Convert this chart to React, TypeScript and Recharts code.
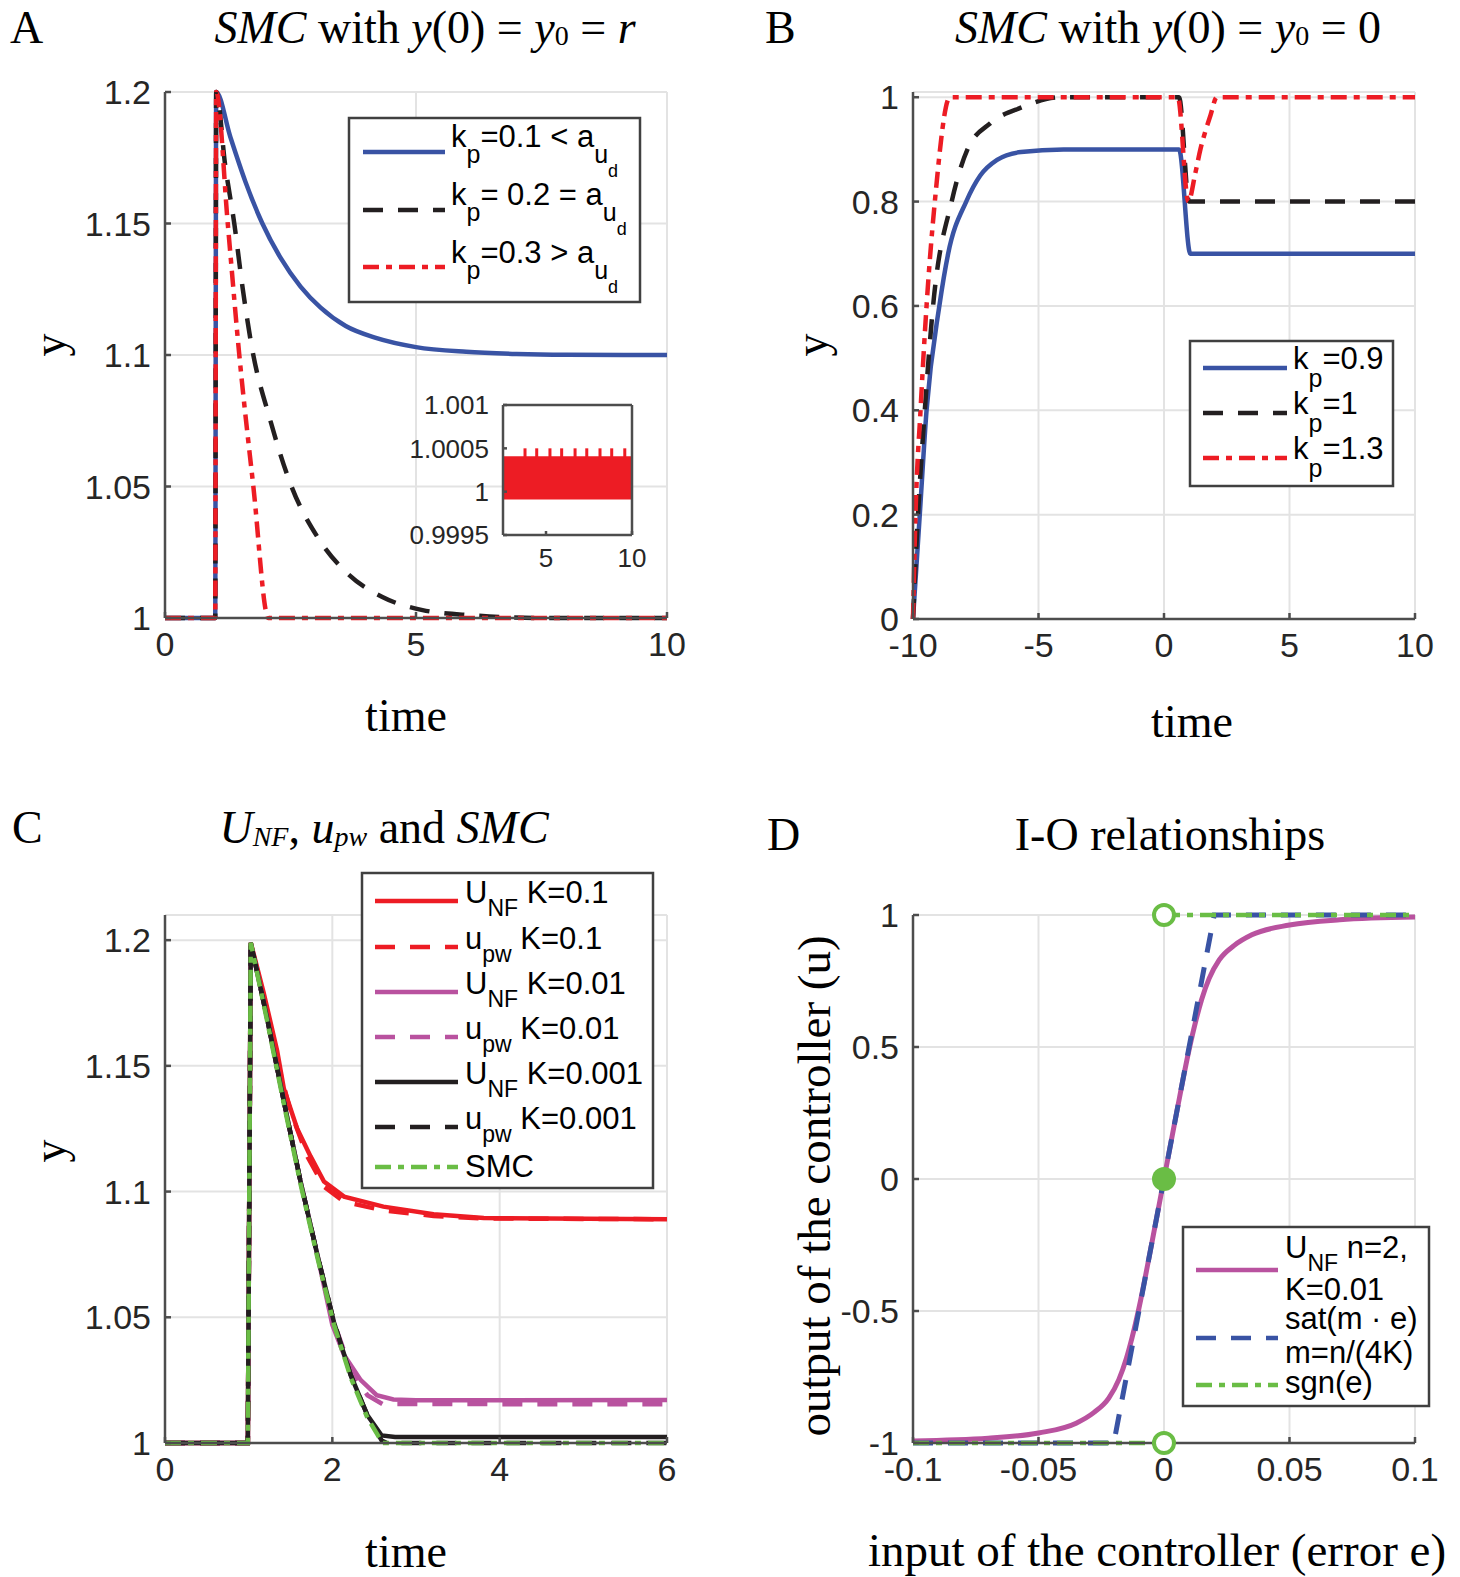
import React from 'react'
import {
  LineChart,
  ComposedChart,
  Line,
  Area,
  Scatter,
  XAxis,
  YAxis,
  CartesianGrid,
  ReferenceLine,
} from 'recharts'

// colours picked from the figure
const BLUE = '#3953a4'
const RED = '#ed1c24'
const BLACK = '#231f20'
const MAGENTA = '#b9529f'
const GREEN = '#6abd45'
const GRID = '#e3e3e3'
const AXIS = '#4d4d4d'
const TICK = '#262626'
const SANS = '"Liberation Sans", Arial, Helvetica, sans-serif'
const SERIF = '"Liberation Serif", "Times New Roman", Times, serif'

const DASHED = '20 15'
const DASHDOT = '16 7 6 7'

// ---------- A: SMC with y(0) = y0 = r
const aTimeTicks = [0, 5, 10]
const aYTicks = [1, 1.05, 1.1, 1.15, 1.2]
const aKp01 = [
  { t: 0, y: 1 }, { t: 1, y: 1 }, { t: 1.02, y: 1.2 }, { t: 1.3, y: 1.183 },
  { t: 1.6, y: 1.166 }, { t: 1.94, y: 1.15 }, { t: 2.3, y: 1.137 }, { t: 2.7, y: 1.126 },
  { t: 3.1, y: 1.118 }, { t: 3.6, y: 1.111 }, { t: 4.2, y: 1.1065 }, { t: 5, y: 1.103 },
  { t: 6, y: 1.1012 }, { t: 7, y: 1.1004 }, { t: 8, y: 1.1001 }, { t: 10, y: 1.1 },
]
const aKp02 = [
  { t: 0, y: 1 }, { t: 1, y: 1 }, { t: 1.02, y: 1.2 }, { t: 1.2, y: 1.172 },
  { t: 1.38, y: 1.15 }, { t: 1.55, y: 1.125 }, { t: 1.72, y: 1.104 }, { t: 2.1, y: 1.075 },
  { t: 2.52, y: 1.05 }, { t: 3.03, y: 1.031 }, { t: 3.63, y: 1.017 }, { t: 4.33, y: 1.008 },
  { t: 5.13, y: 1.003 }, { t: 6.13, y: 1.001 }, { t: 7.5, y: 1 }, { t: 10, y: 1 },
]
const aKp03 = [
  { t: 0, y: 1 }, { t: 1, y: 1 }, { t: 1.02, y: 1.2 }, { t: 1.25, y: 1.15 },
  { t: 1.48, y: 1.1 }, { t: 1.76, y: 1.05 }, { t: 2.06, y: 1 }, { t: 10, y: 1 },
]
const insetTimeTicks = [5, 10]
const insetYTicks = [0.9995, 1, 1.0005, 1.001]
const insetBand = [
  { t: 2.5, y: [0.99991, 1.00041] },
  { t: 10, y: [0.99991, 1.00041] },
]
const insetSpikes = [
  { t: 3.78, y: 1.0005 }, { t: 4.46, y: 1.0005 }, { t: 5.23, y: 1.0005 },
  { t: 5.91, y: 1.0005 }, { t: 6.69, y: 1.0005 }, { t: 7.37, y: 1.0005 },
  { t: 8.14, y: 1.0005 }, { t: 8.82, y: 1.0005 }, { t: 9.58, y: 1.0005 },
]

// ---------- B: SMC with y(0) = y0 = 0
const bTimeTicks = [-10, -5, 0, 5, 10]
const bYTicks = [0, 0.2, 0.4, 0.6, 0.8, 1]
const bKp09 = [
  { t: -10, y: 0 }, { t: -9.73, y: 0.2 }, { t: -9.46, y: 0.4 }, { t: -8.95, y: 0.6 },
  { t: -8.6, y: 0.7 }, { t: -7.88, y: 0.8 }, { t: -7.32, y: 0.85 }, { t: -6.65, y: 0.88 },
  { t: -5.7, y: 0.895 }, { t: -4, y: 0.9 }, { t: 0.6, y: 0.9 }, { t: 1.05, y: 0.7 },
  { t: 10, y: 0.7 },
]
const bKp1 = [
  { t: -10, y: 0 }, { t: -9.8, y: 0.2 }, { t: -9.53, y: 0.4 }, { t: -9.2, y: 0.6 },
  { t: -8.46, y: 0.8 }, { t: -7.83, y: 0.9 }, { t: -6.92, y: 0.95 }, { t: -5.7, y: 0.98 },
  { t: -4.1, y: 1 }, { t: 0.6, y: 1 }, { t: 1.0, y: 0.8 }, { t: 10, y: 0.8 },
]
const bKp13 = [
  { t: -10, y: 0 }, { t: -9.9, y: 0.2 }, { t: -9.7, y: 0.4 }, { t: -9.46, y: 0.6 },
  { t: -9.13, y: 0.8 }, { t: -8.53, y: 1 }, { t: 0.55, y: 1 }, { t: 0.97, y: 0.8 },
  { t: 1.25, y: 0.855 }, { t: 1.45, y: 0.9 }, { t: 1.65, y: 0.935 }, { t: 1.85, y: 0.965 },
  { t: 2.1, y: 1 }, { t: 10, y: 1 },
]

// ---------- C: U_NF, u_pw and SMC
const cTimeTicks = [0, 2, 4, 6]
const cYTicks = [1, 1.05, 1.1, 1.15, 1.2]
const cUnfK01 = [
  { t: 0, y: 1 }, { t: 0.99, y: 1 }, { t: 1.025, y: 1.199 }, { t: 1.18, y: 1.179 },
  { t: 1.34, y: 1.156 }, { t: 1.42, y: 1.141 }, { t: 1.58, y: 1.125 }, { t: 1.74, y: 1.114 },
  { t: 1.9, y: 1.104 }, { t: 2.14, y: 1.098 }, { t: 2.61, y: 1.094 }, { t: 3.21, y: 1.091 },
  { t: 3.81, y: 1.0895 }, { t: 6, y: 1.089 },
]
const cUpwK01 = [
  { t: 0, y: 1 }, { t: 0.99, y: 1 }, { t: 1.025, y: 1.199 }, { t: 1.18, y: 1.177 },
  { t: 1.34, y: 1.152 }, { t: 1.5, y: 1.132 }, { t: 1.7, y: 1.114 }, { t: 1.9, y: 1.102 },
  { t: 2.14, y: 1.096 }, { t: 2.61, y: 1.0925 }, { t: 3.21, y: 1.0903 }, { t: 3.81, y: 1.0893 },
  { t: 6, y: 1.089 },
]
const cUnfK001 = [
  { t: 0, y: 1 }, { t: 0.99, y: 1 }, { t: 1.025, y: 1.199 }, { t: 1.22, y: 1.169 },
  { t: 1.42, y: 1.136 }, { t: 1.62, y: 1.104 }, { t: 1.82, y: 1.075 }, { t: 2.0, y: 1.047 },
  { t: 2.14, y: 1.035 }, { t: 2.34, y: 1.025 }, { t: 2.53, y: 1.019 }, { t: 2.73, y: 1.0173 },
  { t: 3.0, y: 1.017 }, { t: 6, y: 1.0171 },
]
const cUpwK001 = [
  { t: 0, y: 1 }, { t: 0.99, y: 1 }, { t: 1.025, y: 1.199 }, { t: 1.22, y: 1.169 },
  { t: 1.42, y: 1.136 }, { t: 1.62, y: 1.104 }, { t: 1.82, y: 1.075 }, { t: 2.02, y: 1.048 },
  { t: 2.22, y: 1.029 }, { t: 2.42, y: 1.019 }, { t: 2.6, y: 1.0155 }, { t: 6, y: 1.0154 },
]
const cUnfK0001 = [
  { t: 0, y: 1 }, { t: 0.99, y: 1 }, { t: 1.025, y: 1.199 }, { t: 1.22, y: 1.169 },
  { t: 1.42, y: 1.136 }, { t: 1.62, y: 1.104 }, { t: 1.82, y: 1.075 }, { t: 2.02, y: 1.048 },
  { t: 2.22, y: 1.027 }, { t: 2.42, y: 1.011 }, { t: 2.59, y: 1.003 }, { t: 2.75, y: 1.0024 },
  { t: 6, y: 1.0024 },
]
const cUpwK0001 = [
  { t: 0, y: 1 }, { t: 0.99, y: 1 }, { t: 1.025, y: 1.199 }, { t: 1.22, y: 1.169 },
  { t: 1.42, y: 1.136 }, { t: 1.62, y: 1.104 }, { t: 1.82, y: 1.075 }, { t: 2.02, y: 1.048 },
  { t: 2.22, y: 1.027 }, { t: 2.42, y: 1.011 }, { t: 2.59, y: 1.001 }, { t: 2.65, y: 1 },
  { t: 6, y: 1 },
]
const cSmc = [
  { t: 0, y: 1 }, { t: 0.99, y: 1 }, { t: 1.025, y: 1.199 }, { t: 1.22, y: 1.168 },
  { t: 1.42, y: 1.135 }, { t: 1.62, y: 1.103 }, { t: 1.82, y: 1.074 }, { t: 2.02, y: 1.047 },
  { t: 2.22, y: 1.026 }, { t: 2.42, y: 1.01 }, { t: 2.6, y: 1 }, { t: 6, y: 1 },
]

// ---------- D: I-O relationships
const dErrTicks = [-0.1, -0.05, 0, 0.05, 0.1]
const dOutTicks = [-1, -0.5, 0, 0.5, 1]
const dUnf = [
  { e: -0.1, u: -0.992 }, { e: -0.07, u: -0.982 }, { e: -0.05, u: -0.962 }, { e: -0.035, u: -0.925 },
  { e: -0.028, u: -0.885 }, { e: -0.022, u: -0.83 }, { e: -0.018, u: -0.76 }, { e: -0.015, u: -0.68 },
  { e: -0.0127, u: -0.6 }, { e: -0.01, u: -0.49 }, { e: -0.005, u: -0.25 }, { e: 0, u: 0 },
  { e: 0.005, u: 0.25 }, { e: 0.01, u: 0.49 }, { e: 0.0127, u: 0.6 }, { e: 0.015, u: 0.68 },
  { e: 0.018, u: 0.76 }, { e: 0.022, u: 0.83 }, { e: 0.028, u: 0.885 }, { e: 0.035, u: 0.925 },
  { e: 0.05, u: 0.962 }, { e: 0.07, u: 0.982 }, { e: 0.1, u: 0.992 },
]
const dSat = [
  { e: -0.1, u: -1 }, { e: -0.02, u: -1 }, { e: 0.02, u: 1 }, { e: 0.1, u: 1 },
]
const dSgn = [
  { e: -0.1, u: -1 }, { e: 0, u: -1 }, { e: 0, u: null }, { e: 0, u: 1 }, { e: 0.1, u: 1 },
]
const dSgnMarks = [
  { e: 0, u: 1, open: true }, { e: 0, u: -1, open: true }, { e: 0, u: 0, open: false },
]

const tickFont = { fontSize: 34, fill: TICK, fontFamily: SANS }
const smallTickFont = { fontSize: 26, fill: TICK, fontFamily: SANS }

function timeAxis(key: string, domain: number[], ticks: number[]) {
  return (
    <XAxis
      dataKey={key}
      type="number"
      domain={domain}
      ticks={ticks}
      interval={0}
      height={60}
      tick={tickFont}
      tickSize={-6}
      tickMargin={20}
      stroke={AXIS}
      strokeWidth={2.5}
    />
  )
}

function valueAxis(domain: number[], ticks: number[]) {
  return (
    <YAxis
      type="number"
      domain={domain}
      ticks={ticks}
      interval={0}
      width={100}
      tick={tickFont}
      tickSize={-6}
      tickMargin={20}
      stroke={AXIS}
      strokeWidth={2.5}
    />
  )
}

const lineBase = { dot: false, activeDot: false, isAnimationActive: false, strokeWidth: 4.5 }

function PanelA() {
  return (
    <LineChart width={730} height={700} margin={{ top: 92, right: 63, bottom: 22, left: 65 }}>
      <CartesianGrid stroke={GRID} strokeWidth={2} />
      {timeAxis('t', [0, 10], aTimeTicks)}
      {valueAxis([1, 1.2], aYTicks)}
      <Line {...lineBase} data={aKp01} dataKey="y" type="monotone" stroke={BLUE} />
      <Line {...lineBase} data={aKp02} dataKey="y" type="monotone" stroke={BLACK} strokeDasharray={DASHED} />
      <Line {...lineBase} data={aKp03} dataKey="y" type="monotone" stroke={RED} strokeDasharray={DASHDOT} />
    </LineChart>
  )
}

function InsetA() {
  return (
    <ComposedChart width={270} height={200} margin={{ top: 25, right: 18, bottom: 5, left: 23 }}>
      <CartesianGrid fill="#ffffff" horizontal={false} vertical={false} />
      <XAxis
        dataKey="t"
        type="number"
        domain={[2.5, 10]}
        ticks={insetTimeTicks}
        interval={0}
        height={40}
        tick={smallTickFont}
        tickSize={-4}
        tickMargin={18}
        stroke={AXIS}
        strokeWidth={2.5}
      />
      <YAxis
        type="number"
        domain={[0.9995, 1.001]}
        ticks={insetYTicks}
        interval={0}
        width={100}
        tick={smallTickFont}
        tickSize={-4}
        tickMargin={18}
        stroke={AXIS}
        strokeWidth={2.5}
      />
      <Area data={insetBand} dataKey="y" type="linear" stroke="none" fill={RED} fillOpacity={1} isAnimationActive={false} />
      <Scatter
        data={insetSpikes}
        dataKey="y"
        isAnimationActive={false}
        shape={(p: any) => <rect x={p.cx - 1.5} y={p.cy} width={3} height={10} fill={RED} />}
      />
      <ReferenceLine x={10} stroke={AXIS} strokeWidth={2.5} />
      <ReferenceLine y={1.001} stroke={AXIS} strokeWidth={2.5} />
    </ComposedChart>
  )
}

function PanelB() {
  return (
    <LineChart width={730} height={700} margin={{ top: 92, right: 45, bottom: 21, left: 83 }}>
      <CartesianGrid stroke={GRID} strokeWidth={2} />
      {timeAxis('t', [-10, 10], bTimeTicks)}
      {valueAxis([0, 1.01], bYTicks)}
      <Line {...lineBase} data={bKp09} dataKey="y" type="monotone" stroke={BLUE} />
      <Line {...lineBase} data={bKp1} dataKey="y" type="monotone" stroke={BLACK} strokeDasharray={DASHED} />
      <Line {...lineBase} data={bKp13} dataKey="y" type="monotone" stroke={RED} strokeDasharray={DASHDOT} />
    </LineChart>
  )
}

function PanelC() {
  return (
    <LineChart width={730} height={780} margin={{ top: 135, right: 63, bottom: 57, left: 65 }}>
      <CartesianGrid stroke={GRID} strokeWidth={2} />
      {timeAxis('t', [0, 6], cTimeTicks)}
      {valueAxis([1, 1.21], cYTicks)}
      <Line {...lineBase} data={cUnfK01} dataKey="y" stroke={RED} />
      <Line {...lineBase} data={cUpwK01} dataKey="y" stroke={RED} strokeDasharray={DASHED} />
      <Line {...lineBase} data={cUnfK001} dataKey="y" stroke={MAGENTA} />
      <Line {...lineBase} data={cUpwK001} dataKey="y" stroke={MAGENTA} strokeDasharray={DASHED} />
      <Line {...lineBase} data={cUnfK0001} dataKey="y" stroke={BLACK} />
      <Line {...lineBase} data={cUpwK0001} dataKey="y" stroke={BLACK} strokeDasharray={DASHED} />
      <Line {...lineBase} data={cSmc} dataKey="y" stroke={GREEN} strokeDasharray={DASHDOT} />
    </LineChart>
  )
}

function PanelD() {
  return (
    <ComposedChart width={730} height={780} margin={{ top: 135, right: 45, bottom: 57, left: 83 }}>
      <CartesianGrid stroke={GRID} strokeWidth={2} />
      {timeAxis('e', [-0.1, 0.1], dErrTicks)}
      {valueAxis([-1, 1], dOutTicks)}
      <Line {...lineBase} data={dUnf} dataKey="u" type="monotone" stroke={MAGENTA} strokeWidth={5} />
      <Line {...lineBase} data={dSat} dataKey="u" stroke={BLUE} strokeWidth={5} strokeDasharray={DASHED} />
      <Line {...lineBase} data={dSgn} dataKey="u" stroke={GREEN} strokeDasharray={DASHDOT} />
      <Scatter
        data={dSgnMarks}
        dataKey="u"
        isAnimationActive={false}
        shape={(p: any) =>
          p.payload.open ? (
            <circle cx={p.cx} cy={p.cy} r={10} fill="#ffffff" stroke={GREEN} strokeWidth={4} />
          ) : (
            <circle cx={p.cx} cy={p.cy} r={12} fill={GREEN} />
          )
        }
      />
    </ComposedChart>
  )
}

// legend sample stroke
function Sample({ x1, x2, y, color, dash }: { x1: number; x2: number; y: number; color: string; dash?: string }) {
  return <line x1={x1} x2={x2} y1={y} y2={y} stroke={color} strokeWidth={4.5} strokeDasharray={dash} />
}

function Overlay() {
  const lt = { fontFamily: SANS, fontSize: 31, fill: '#000' }
  return (
    <svg width={1460} height={1577} style={{ position: 'absolute', left: 0, top: 0 }}>
      {/* panel letters and titles */}
      <g fontFamily={SERIF} fontSize={46} fill="#000">
        <text x={10} y={43}>A</text>
        <text x={765} y={43}>B</text>
        <text x={12} y={843}>C</text>
        <text x={767} y={850}>D</text>
        <text x={425} y={43} textAnchor="middle">
          <tspan fontStyle="italic">SMC</tspan>
          <tspan>{' with '}</tspan>
          <tspan fontStyle="italic">y</tspan>
          <tspan>{'(0) = '}</tspan>
          <tspan fontStyle="italic">y</tspan>
          <tspan fontSize={28} dy={2}>0</tspan>
          <tspan dy={-2}>{' = '}</tspan>
          <tspan fontStyle="italic">r</tspan>
        </text>
        <text x={1168} y={43} textAnchor="middle">
          <tspan fontStyle="italic">SMC</tspan>
          <tspan>{' with '}</tspan>
          <tspan fontStyle="italic">y</tspan>
          <tspan>{'(0) = '}</tspan>
          <tspan fontStyle="italic">y</tspan>
          <tspan fontSize={28} dy={2}>0</tspan>
          <tspan dy={-2}>{' = 0'}</tspan>
        </text>
        <text x={384} y={843} textAnchor="middle">
          <tspan fontStyle="italic">U</tspan>
          <tspan fontStyle="italic" fontSize={28} dy={3}>NF</tspan>
          <tspan dy={-3}>{', '}</tspan>
          <tspan fontStyle="italic">u</tspan>
          <tspan fontStyle="italic" fontSize={28} dy={3}>pw</tspan>
          <tspan dy={-3}>{' and '}</tspan>
          <tspan fontStyle="italic">SMC</tspan>
        </text>
        <text x={1170} y={850} textAnchor="middle">I-O relationships</text>

        {/* axis labels */}
        <text x={406} y={731} textAnchor="middle">time</text>
        <text x={1192} y={737} textAnchor="middle">time</text>
        <text x={406} y={1567} textAnchor="middle">time</text>
        <text x={1157} y={1566} textAnchor="middle" fontSize={47}>input of the controller (error e)</text>
        <text transform="translate(65,345) rotate(-90)" textAnchor="middle">y</text>
        <text transform="translate(827,345) rotate(-90)" textAnchor="middle">y</text>
        <text transform="translate(65,1151) rotate(-90)" textAnchor="middle">y</text>
        <text transform="translate(830,1186) rotate(-90)" textAnchor="middle" fontSize={47}>output of the controller (u)</text>
      </g>

      {/* legend A */}
      <rect x={349} y={118} width={291} height={184} fill="#fff" stroke="#404040" strokeWidth={2.5} />
      <Sample x1={363} x2={445} y={152} color={BLUE} />
      <Sample x1={363} x2={445} y={210} color={BLACK} dash={DASHED} />
      <Sample x1={363} x2={445} y={267} color={RED} dash={DASHDOT} />
      {[
        { y: 147, s: '=0.1 < a' },
        { y: 205, s: '= 0.2 = a' },
        { y: 263, s: '=0.3 > a' },
      ].map((r) => (
        <text key={r.y} x={451} y={r.y} {...lt}>
          <tspan>k</tspan>
          <tspan fontSize={25} dy={16}>p</tspan>
          <tspan dy={-16}>{r.s}</tspan>
          <tspan fontSize={25} dy={16}>u</tspan>
          <tspan fontSize={18} dy={14}>d</tspan>
        </text>
      ))}

      {/* legend B */}
      <rect x={1190} y={341} width={203} height={145} fill="#fff" stroke="#404040" strokeWidth={2.5} />
      <Sample x1={1203} x2={1287} y={368} color={BLUE} />
      <Sample x1={1203} x2={1287} y={413} color={BLACK} dash={DASHED} />
      <Sample x1={1203} x2={1287} y={458} color={RED} dash={DASHDOT} />
      {[
        { y: 369, s: '=0.9' },
        { y: 414, s: '=1' },
        { y: 459, s: '=1.3' },
      ].map((r) => (
        <text key={r.y} x={1293} y={r.y} {...lt}>
          <tspan>k</tspan>
          <tspan fontSize={25} dy={18}>p</tspan>
          <tspan dy={-18}>{r.s}</tspan>
        </text>
      ))}

      {/* legend C */}
      <rect x={362} y={873} width={291} height={315} fill="#fff" stroke="#404040" strokeWidth={2.5} />
      <Sample x1={375} x2={458} y={901} color={RED} />
      <Sample x1={375} x2={458} y={947} color={RED} dash={DASHED} />
      <Sample x1={375} x2={458} y={992} color={MAGENTA} />
      <Sample x1={375} x2={458} y={1037} color={MAGENTA} dash={DASHED} />
      <Sample x1={375} x2={458} y={1082} color={BLACK} />
      <Sample x1={375} x2={458} y={1127} color={BLACK} dash={DASHED} />
      <Sample x1={375} x2={458} y={1167} color={GREEN} dash={DASHDOT} />
      {[
        { y: 903, m: 'U', s: 'NF', k: ' K=0.1' },
        { y: 949, m: 'u', s: 'pw', k: ' K=0.1' },
        { y: 994, m: 'U', s: 'NF', k: ' K=0.01' },
        { y: 1039, m: 'u', s: 'pw', k: ' K=0.01' },
        { y: 1084, m: 'U', s: 'NF', k: ' K=0.001' },
        { y: 1129, m: 'u', s: 'pw', k: ' K=0.001' },
      ].map((r) => (
        <text key={r.y} x={465} y={r.y} {...lt}>
          <tspan>{r.m}</tspan>
          <tspan fontSize={23} dy={13}>{r.s}</tspan>
          <tspan dy={-13}>{r.k}</tspan>
        </text>
      ))}
      <text x={465} y={1177} {...lt}>SMC</text>

      {/* legend D */}
      <rect x={1183} y={1227} width={246} height={179} fill="#fff" stroke="#404040" strokeWidth={2.5} />
      <Sample x1={1196} x2={1278} y={1270} color={MAGENTA} />
      <Sample x1={1196} x2={1278} y={1338} color={BLUE} dash={DASHED} />
      <Sample x1={1196} x2={1278} y={1385} color={GREEN} dash={DASHDOT} />
      <text x={1285} y={1258} {...lt}>
        <tspan>U</tspan>
        <tspan fontSize={23} dy={13}>NF</tspan>
        <tspan dy={-13}>{' n=2,'}</tspan>
      </text>
      <text x={1285} y={1300} {...lt}>K=0.01</text>
      <text x={1285} y={1329} {...lt}>sat(m · e)</text>
      <text x={1285} y={1363} {...lt}>m=n/(4K)</text>
      <text x={1285} y={1393} {...lt}>sgn(e)</text>
    </svg>
  )
}

export default function App() {
  return (
    <div style={{ position: 'absolute', left: 0, top: 0, width: 1460, height: 1577, background: '#fff', overflow: 'hidden' }}>
      <div style={{ position: 'absolute', left: 0, top: 0 }}>
        <PanelA />
      </div>
      <div style={{ position: 'absolute', left: 380, top: 380 }}>
        <InsetA />
      </div>
      <div style={{ position: 'absolute', left: 730, top: 0 }}>
        <PanelB />
      </div>
      <div style={{ position: 'absolute', left: 0, top: 780 }}>
        <PanelC />
      </div>
      <div style={{ position: 'absolute', left: 730, top: 780 }}>
        <PanelD />
      </div>
      <Overlay />
    </div>
  )
}
